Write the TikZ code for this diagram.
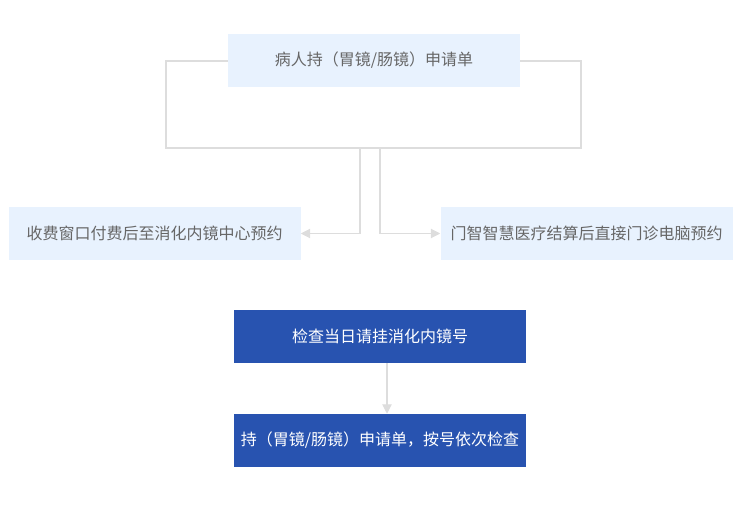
\documentclass[tikz,border=0pt]{standalone}
\usepackage{fontspec}
\setmainfont{Noto Sans CJK SC}
\usepackage{xcolor}
\definecolor{Col1}{RGB}{232,242,254}
\definecolor{Col2}{RGB}{40,83,176}
\definecolor{Col3}{RGB}{221,221,221}
\definecolor{Col4}{RGB}{102,102,102}
\usetikzlibrary{arrows.meta}
\tikzstyle{Light}=[rectangle,fill=Col1,text=Col4,inner sep=0pt,
minimum width=219pt,minimum height=39.75pt,font=\fontsize{12}{14}\selectfont]
\tikzstyle{Dark}=[rectangle,fill=Col2,text=white,inner sep=0pt,
minimum width=219pt,minimum height=39.75pt,font=\fontsize{12}{14}\selectfont]
\tikzstyle{Edge}=[draw=Col3,line width=.8pt]
\tikzstyle{Tip}=[-{Triangle[length=7pt,width=7pt]}]
\begin{document}
\begin{tikzpicture}[x=.75pt,y=-.75pt]
        \useasboundingbox (0,0) rectangle (735,527);
        \coordinate(f1)at(166,61);
        \coordinate(f2)at(581,148);
        \coordinate(l)at(360,148);
        \coordinate(r)at(380,148);
        \draw[Edge](f1)rectangle(f2);
        \node[Light](top)at(374,60.5){病人持（胃镜/肠镜）申请单};
        \node[Light](left)at(154.5,233.5){收费窗口付费后至消化内镜中心预约};
        \node[Light](right)at(586.5,233.5){门智智慧医疗结算后直接门诊电脑预约};
        \node[Dark](reg)at(380,336.5){检查当日请挂消化内镜号};
        \node[Dark](exam)at(380,440.5){持（胃镜/肠镜）申请单，按号依次检查};
        \draw[Edge,Tip](l)|-(left);
        \draw[Edge,Tip](r)|-(right);
        \draw[Edge,Tip](reg.south-|387,0)--(exam.north-|387,0);
    \end{tikzpicture}
\end{document}
